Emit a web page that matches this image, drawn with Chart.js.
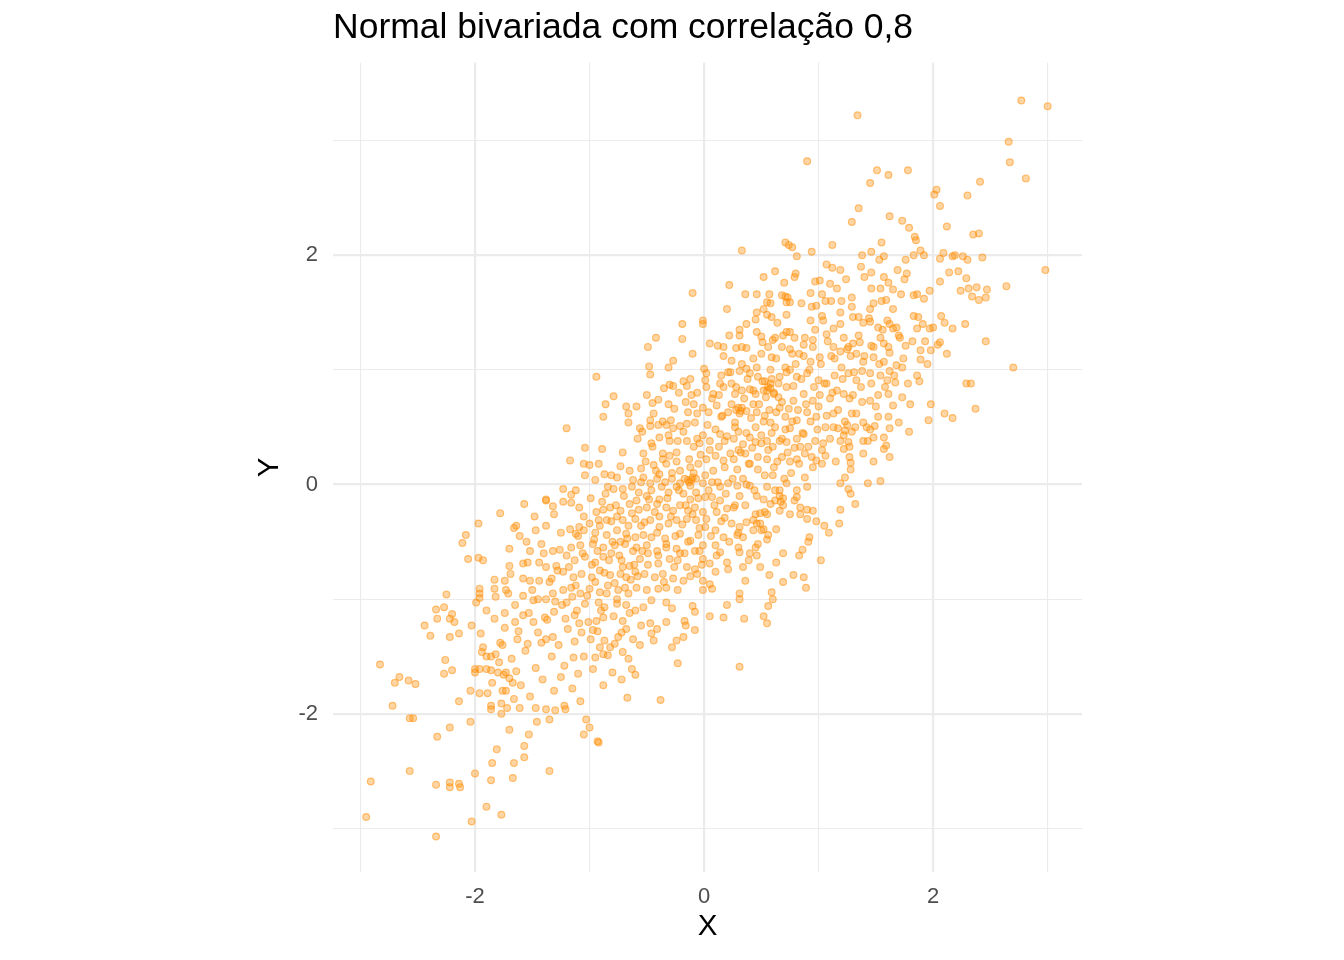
<!DOCTYPE html>
<html lang="pt">
<head>
<meta charset="utf-8">
<title>Normal bivariada com correlação 0,8</title>
<script src="https://cdn.jsdelivr.net/npm/chart.js@4.4.1/dist/chart.umd.min.js"></script>
<style>
	html, body { margin: 0; padding: 0; background: #ffffff; }
	#grafico { display: block; }
</style>
</head>
<body>
<canvas id="grafico" width="1344" height="960"></canvas>
<script>
// pontos (x, y), separados por região da nuvem
const cauda_inferior = [
	[-2.95,-2.90],[-2.91,-2.59],[-2.34,-3.07],[-2.57,-2.50],[-2.34,-2.62],[-2.22,-2.60],[-2.22,-2.64],[-2.14,-2.61],
	[-2.13,-2.64],[-2.03,-2.94],[-1.90,-2.81],[-1.77,-2.88],[-2.00,-2.52],[-1.86,-2.58],[-1.67,-2.56],[-1.35,-2.50],
	[-2.33,-2.20],[-2.22,-2.12],[-2.04,-2.07],[-2.57,-2.04],[-2.54,-2.04],[-2.72,-1.93],[-2.83,-1.57],[-2.70,-1.73],
	[-2.66,-1.68],[-2.58,-1.71],[-2.52,-1.74],[-2.26,-1.53],[-2.27,-1.65],[-2.20,-1.62],[-2.14,-1.89],[-2.04,-1.80],
	[-2.44,-1.23],[-2.39,-1.32],[-2.34,-1.09],[-2.27,-1.07],[-2.33,-1.17],[-2.22,-1.17],[-2.20,-1.13],[-2.18,-1.20],
	[-2.22,-1.33],[-2.14,-1.30],[-2.25,-0.96],[-2.03,-1.23],[-2.11,-0.51],[-2.08,-0.44],[-2.06,-0.65],[-1.97,-0.34],
	[-1.97,-0.64],[-1.93,-0.66],[-1.99,-1.03],[-1.96,-0.99],[-1.96,-0.95],[-1.96,-0.91],[-1.78,-0.25],[-1.83,-0.83],
	[-1.83,-0.91],[-1.73,-0.92],[-1.74,-1.12],[-1.83,-1.17],[-1.93,-1.42],[-1.94,-1.46],[-1.90,-1.50],[-1.82,-1.48],
	[-1.86,-1.50],[-1.79,-1.55],[-1.76,-1.40],[-2.00,-1.61],[-2.00,-1.64],[-1.96,-1.61],[-1.90,-1.61],[-1.80,-1.64],
	[-1.73,-1.64],[-1.64,-1.63],[-1.67,-1.73],[-1.70,-1.69],[-1.75,-1.66],[-1.85,-1.73],[-1.96,-1.82],[-1.76,-1.80],
	[-1.73,-1.80],[-1.66,-1.87],[-1.86,-1.93],[-1.86,-1.96],[-1.77,-1.91],[-1.77,-2.00],[-1.70,-2.14],[-1.81,-2.31],
	[-1.85,-2.43],[-1.66,-2.43],[-1.57,-2.38],[-1.57,-2.28],[-1.53,-2.18],[-1.46,-2.07],[-1.61,-1.95],[-1.47,-1.95],
	[-1.38,-1.96],[-1.30,-1.97],[-1.35,-2.05],[-1.22,-1.93],[-1.21,-1.96],[-1.08,-1.89],[-1.03,-2.05],[-1.00,-2.12],
	[-1.05,-2.18],[-0.93,-2.24],[-0.92,-2.25],[-0.80,-1.64],[-0.88,-1.75],[-0.67,-1.86],[-0.38,-1.88],[-0.72,-1.70],
	[-0.60,-1.66]
];

const flanco_esquerdo = [
	[-1.17,0.21],[-1.23,-0.04],[-1.12,-0.05],[-1.16,-0.09],[-1.38,-0.13],[-1.70,-0.56],[-1.66,-0.38],[-1.74,-0.84],
	[-1.70,-0.71],[-1.69,-0.78],[-1.57,-0.17],[-1.38,-0.14],[-1.32,-0.19],[-1.23,-0.15],[-1.16,-0.16],[-1.09,-0.20],
	[-1.64,-0.36],[-1.48,-0.28],[-1.47,-0.40],[-1.38,-0.36],[-1.31,-0.26],[-1.25,-0.42],[-1.17,-0.39],[-1.09,-0.37],
	[-1.12,-0.43],[-1.61,-0.45],[-1.55,-0.50],[-1.42,-0.52],[-1.52,-0.58],[-1.32,-0.58],[-1.26,-0.57],[-1.58,-0.69],
	[-1.54,-0.68],[-1.44,-0.68],[-1.38,-0.72],[-1.29,-0.71],[-1.52,-0.84],[-1.44,-0.84],[-1.33,-0.82],[-1.58,-0.97],
	[-1.49,-1.01],[-1.38,-1.00],[-1.32,-0.95],[-1.65,-1.20],[-1.58,-1.14],[-1.49,-1.20],[-1.39,-1.16],[-1.31,-1.11],
	[-1.63,-1.35],[-1.54,-1.39],[-1.45,-1.29],[-1.38,-1.35],[-1.32,-1.33],
	[-1.95,-1.30],[-1.90,-1.10],[-1.86,-1.62],[-1.82,-0.98],[-1.78,-1.38],[-1.74,-1.25],[-1.71,-0.95],[-1.68,-1.52],
	[-1.65,-1.05],[-1.62,-1.28],[-1.58,-0.82],[-1.56,-1.45],[-1.53,-1.12],[-1.50,-0.92],[-1.47,-1.60],[-1.45,-1.00],
	[-1.42,-1.38],[-1.40,-0.60],[-1.37,-1.18],[-1.35,-0.85],[-1.33,-1.50],[-1.30,-1.02],[-1.28,-0.75],[-1.27,-1.40],
	[-1.24,-1.05],[-1.22,-1.58],[-1.89,-1.82],[-1.72,-1.95],[-1.60,-1.75],[-1.52,-1.85],[-1.41,-1.70],[-1.31,-1.80],
	[-1.25,-1.68],[-1.15,-1.78],[-1.10,-1.65],[-1.05,-1.50]
];

const cauda_superior = [
	[1.34,3.22],[2.77,3.35],[3.00,3.30],[2.66,2.99],[2.67,2.81],[2.81,2.67],[0.90,2.82],[1.51,2.74],
	[1.61,2.70],[1.78,2.74],[1.45,2.63],[2.41,2.64],[2.30,2.52],[2.03,2.57],[2.01,2.53],[2.06,2.43],
	[1.35,2.41],[1.29,2.29],[1.62,2.34],[1.73,2.30],[1.79,2.24],[2.12,2.25],[2.35,2.18],[2.40,2.19],
	[1.84,2.16],[1.85,2.13],[1.12,2.09],[1.55,2.11],[0.94,2.03],[2.98,1.87],[2.64,1.73],[2.46,1.25],
	[2.70,1.02],[2.29,0.88],[2.33,0.88],[2.37,0.66],[2.10,0.62],[2.17,0.58],[1.98,0.70],[1.96,0.56],
	[1.38,2.00],[1.46,2.03],[1.53,1.96],[1.57,1.99],[1.76,1.96],[1.83,2.00],[1.89,2.04],[1.92,2.00],
	[2.06,1.97],[2.09,2.02],[2.17,1.99],[2.19,2.00],[2.26,1.99],[2.30,1.96],[2.43,1.98],[2.14,1.85],
	[2.22,1.86],[2.29,1.80],[2.06,1.77],[2.24,1.69],[2.31,1.71],[2.38,1.72],[2.47,1.70],[2.34,1.64],
	[2.40,1.61],[2.46,1.63],[2.07,1.47],[2.10,1.41],[2.17,1.36],[2.28,1.40],[2.00,1.37],[1.97,1.36],
	[1.93,1.25],[2.04,1.22],[2.06,1.24],[2.12,1.14],[1.89,1.17],[1.98,1.17],[1.95,1.05],[1.89,1.09]
];

const acima_do_nucleo = [
	[0.33,2.04],[0.71,2.11],[0.74,2.09],[0.77,2.07],[0.81,1.99],[0.62,1.86],[0.52,1.81],[0.70,1.76],
	[0.79,1.81],[0.80,1.84],[0.22,1.74],[-0.10,1.67],[0.36,1.66],[0.46,1.66],[0.57,1.66],[0.55,1.59],
	[0.58,1.58],[0.68,1.65],[0.71,1.64],[0.73,1.63],[0.72,1.59],[0.75,1.59],[0.20,1.53],[0.45,1.44],
	[0.46,1.50],[0.52,1.53],[0.55,1.48],[0.59,1.46],[0.64,1.41],[0.72,1.48],[0.37,1.40],[0.31,1.35],
	[0.31,1.30],[0.22,1.30],[-0.01,1.43],[-0.01,1.40],[-0.19,1.40],[-0.42,1.28],[-0.19,1.27],[-0.49,1.20],
	[-0.10,1.14],[-0.48,1.03],[-0.47,0.96],[-0.31,1.02],[-0.27,1.08],[-0.94,0.94],[0.46,1.33],[0.50,1.29],
	[0.62,1.28],[0.60,1.26],[0.79,1.28],[0.75,1.33],[0.72,1.33],[-0.18,0.90],[-0.15,0.86],[-0.35,0.84],
	[-0.30,0.87],[-0.27,0.86],[-0.50,0.78],[-0.45,0.71],[-0.11,0.78],[-0.06,0.80],[-0.79,0.77],[-0.86,0.70],
	[-0.88,0.59],[-0.68,0.68],[-0.66,0.62],[-0.59,0.68],[-1.20,0.49],[-0.31,0.70],[-0.14,0.63],[-0.09,0.70],
	[-0.47,0.56],[-0.29,0.56]
];

const nucleo_esquerdo = [
	[-0.66,0.54],[-0.56,0.49],[-0.47,0.51],[-0.40,0.52],[-0.33,0.52],[-0.27,0.49],[-0.21,0.51],[-0.15,0.53],
	[-0.08,0.54],[-1.04,0.32],[-0.89,0.31],[-0.71,0.28],[-0.53,0.27],[-0.46,0.36],[-0.39,0.41],[-0.31,0.43],
	[-0.36,0.27],[-0.30,0.25],[-0.23,0.38],[-0.15,0.38],[-0.09,0.33],[-0.04,0.36],[-1.05,0.18],[-1.00,0.17],
	[-0.92,0.18],[-0.73,0.16],[-0.65,0.12],[-0.55,0.14],[-0.44,0.17],[-0.39,0.09],[-0.33,0.18],[-0.24,0.20],
	[-0.21,0.12],[-0.12,0.15],[-0.05,0.18],[-1.04,0.08],[-0.95,0.04],[-0.87,0.09],[-0.81,0.08],[-0.76,0.06],
	[-0.62,0.04],[-0.53,0.06],[-0.47,0.01],[-0.41,0.05],[-0.34,0.02],[-0.28,0.05],[-0.21,0.01],[-0.14,0.04],
	[-0.07,0.05],[-0.01,0.01],[-0.84,-0.02],[-0.79,-0.04],[-0.71,-0.04],[-0.63,-0.02],[-0.57,-0.07],[-0.50,-0.10],
	[-0.46,-0.05],[-0.39,-0.13],[-0.31,-0.07],[-0.24,-0.02],[-0.18,-0.08],[-0.12,-0.13],[-0.07,-0.07],[0.01,-0.11],
	[-0.89,-0.15],[-0.94,-0.24],[-0.82,-0.20],[-0.73,-0.23],[-0.65,-0.17],[-0.59,-0.14],[-0.50,-0.20],[-0.41,-0.17],
	[-0.33,-0.20],[-0.27,-0.23],[-0.21,-0.18],[-0.14,-0.23],[-0.08,-0.20],[-0.01,-0.24],[-1.00,-0.34],[-0.92,-0.31],
	[-0.85,-0.31],[-0.76,-0.28],[-0.71,-0.31],[-0.60,-0.30],[-0.55,-0.36],[-0.47,-0.31],[-0.39,-0.28],[-0.31,-0.34],
	[-0.24,-0.31],[-0.15,-0.30],[-0.07,-0.31],[0.01,-0.37],[-1.05,-0.40],[-0.95,-0.42],[-0.85,-0.44],[-0.76,-0.40],
	[-0.68,-0.43],[-0.60,-0.46],[-0.53,-0.44],[-0.41,-0.42],[-0.34,-0.47],[-0.21,-0.43],[-0.12,-0.49],[-0.05,-0.44],
	[-0.01,-0.53],
	[-0.58,-0.80],[-0.57,-0.22],[-0.55,0.02],[-0.54,-0.58],[-0.52,-0.33],[-0.51,0.20],[-0.49,-0.70],[-0.48,-0.13],
	[-0.46,-0.46],[-0.45,0.33],[-0.43,-0.24],[-0.42,0.12],[-0.40,-0.62],[-0.39,-0.37],[-0.37,-0.02],[-0.36,0.22],
	[-0.35,-0.85],[-0.33,-0.55],[-0.32,-0.12],[-0.30,0.38],[-0.29,-0.28],[-0.28,0.10],[-0.26,-0.72],[-0.25,-0.45],
	[-0.24,0.28],[-0.22,-0.05],[-0.21,-0.60],[-0.19,-0.35],[-0.18,0.46],[-0.17,0.05],[-0.16,-0.18],[-0.14,-0.50],
	[-0.13,0.22],[-0.12,-0.80],[-0.10,-0.26],[-0.09,0.10],[-0.08,-0.58],[-0.06,0.40],[-0.05,-0.12],[-0.04,-0.38],
	[-0.03,0.26],[-0.02,-0.70],[-0.58,0.40],[-0.54,0.46],[-0.44,0.62],[-0.36,0.55],[-0.26,0.66],[-0.16,0.72],
	[-0.06,0.62],[-0.12,0.92],[-0.22,0.80],[-0.40,0.74],[-0.13,0.02],[-0.11,0.04],[-0.12,-0.01],[-0.10,0.06],
	[-1.18,-0.72],[-1.12,-0.88],[-1.06,-0.60],[-1.02,-0.97],[-0.98,-0.70],[-0.95,-0.85],[-0.93,-0.58],[-0.90,-1.10],
	[-0.87,-0.77],[-0.85,-0.95],[-0.83,-0.66],[-0.80,-0.50],[-0.78,-0.86],[-0.76,-1.00],[-0.74,-0.62],[-0.71,-0.72],
	[-0.69,-0.90],[-0.67,-0.47],[-0.64,-0.83],[-0.62,-0.58],[-1.15,-0.98],[-1.10,-0.45],[-1.05,-0.28],[-0.99,-0.12],
	[-0.96,-0.48],[-0.91,-0.36],[-0.88,-0.22],[-0.86,-0.08],[-0.81,-0.32],[-0.77,-0.18],[-0.73,-0.50],[-0.70,-0.10],
	[-0.66,-0.36],[-0.63,-0.25],[-0.61,-0.70],[-1.19,-1.26],[-1.09,-1.21],[-0.99,-1.35],[-0.93,-1.28],[-0.79,-1.15],
	[-0.75,-1.33],[-0.65,-1.12],[-0.62,-1.35]
];

const nucleo_direito = [
	[0.05,1.23],[0.12,1.21],[0.17,1.20],[0.17,1.12],[0.24,1.08],[0.28,1.19],[0.33,1.20],[0.37,1.19],
	[0.43,1.10],[0.50,1.14],[0.51,1.24],[0.56,1.20],[0.59,1.11],[0.68,1.20],[0.77,1.14],[0.83,1.14],
	[0.00,1.01],[0.02,0.97],[0.15,0.95],[0.23,0.98],[0.31,0.99],[0.37,1.01],[0.40,0.97],[0.47,0.94],
	[0.53,0.90],[0.58,0.88],[0.59,0.92],[0.66,0.94],[0.71,1.02],[0.75,1.00],[0.81,0.94],[0.01,0.91],
	[0.02,0.85],[0.08,0.79],[0.13,0.78],[0.17,0.85],[0.24,0.88],[0.27,0.79],[0.33,0.82],[0.40,0.83],
	[0.45,0.79],[0.52,0.82],[0.56,0.85],[0.61,0.79],[0.65,0.76],[0.72,0.85],[0.78,0.73],[-0.01,0.67],
	[0.04,0.63],[0.11,0.69],[0.15,0.59],[0.21,0.63],[0.27,0.54],[0.33,0.67],[0.37,0.64],[0.43,0.70],
	[0.46,0.63],[0.53,0.60],[0.58,0.54],[0.63,0.63],[0.66,0.67],[0.71,0.59],[0.75,0.49],[0.81,0.56],
	[-0.01,0.43],[0.05,0.38],[0.14,0.44],[0.18,0.38],[0.26,0.40],[0.30,0.46],[0.34,0.35],[0.40,0.41],
	[0.45,0.37],[0.50,0.43],[0.55,0.38],[0.60,0.33],[0.68,0.40],[0.72,0.37],[0.81,0.40],[0.84,0.33],
	[0.97,0.38],[1.04,0.36],[0.02,0.22],[0.10,0.25],[0.17,0.21],[0.26,0.22],[0.30,0.30],[0.36,0.27],
	[0.40,0.18],[0.47,0.24],[0.55,0.22],[0.61,0.15],[0.68,0.24],[0.75,0.20],[0.81,0.22],[0.88,0.27],
	[0.94,0.24],[0.98,0.21],[1.06,0.25],
	[0.01,0.08],[0.02,-0.30],[0.03,0.52],[0.04,-0.05],[0.05,0.30],[0.06,-0.45],[0.07,0.75],[0.08,0.12],
	[0.09,-0.18],[0.10,0.48],[0.11,-0.62],[0.12,0.02],[0.13,0.33],[0.14,0.88],[0.15,-0.32],[0.16,0.60],
	[0.18,0.15],[0.19,-0.08],[0.20,0.42],[0.21,0.98],[0.22,-0.50],[0.23,0.27],[0.24,0.70],[0.25,0.05],
	[0.26,-0.20],[0.27,0.50],[0.28,0.85],[0.29,0.13],[0.30,-0.42],[0.31,0.62],[0.32,0.28],[0.33,1.05],
	[0.34,0.05],[0.35,0.75],[0.36,-0.18],[0.37,0.45],[0.38,0.92],[0.39,0.18],[0.40,-0.60],[0.41,0.58],
	[0.42,0.32],[0.43,0.82],[0.44,-0.05],[0.45,0.50],[0.46,1.02],[0.47,0.13],[0.48,0.70],[0.49,-0.25],
	[0.50,0.36],[0.51,0.90],[0.52,0.55],[0.53,0.08],[0.54,0.76],[0.55,-0.48],[0.56,0.30],[0.57,0.65],
	[0.58,1.00],[0.59,0.45],[0.60,0.08],[0.28,0.65],[0.30,0.67],[0.32,0.64],[0.55,0.82],[0.58,0.84],
	[0.61,0.80],
	[0.62,0.50],[0.63,1.10],[0.64,0.20],[0.65,0.88],[0.66,0.38],[0.67,-0.15],[0.68,0.72],[0.69,1.30],
	[0.70,0.05],[0.71,0.48],[0.72,0.98],[0.73,0.28],[0.74,0.66],[0.75,1.18],[0.76,0.10],[0.77,0.55],
	[0.78,0.86],[0.79,0.32],[0.80,1.05],[0.82,0.65],[0.83,0.18],[0.85,0.92],[0.86,0.45],[0.87,1.22],
	[0.88,0.06],[0.89,0.70],[0.91,0.33],[0.92,1.00],[0.93,0.55],[0.95,0.15],[0.96,0.85],[0.97,1.35],
	[0.99,0.48],[1.00,0.68],[1.02,1.05],[1.03,0.30],[1.05,0.88],[1.07,0.60],[1.08,1.25],[1.10,0.40],
	[1.12,0.80],[1.14,1.10],[1.15,0.20],[1.17,0.65],[1.19,1.40],[1.21,0.92],[1.23,0.55],[1.25,1.18],
	[1.27,0.75],[1.29,1.55],[1.31,0.98],[1.33,0.62],[1.35,1.30],[1.37,0.85],[1.40,1.12],[1.42,0.50],
	[1.44,1.45],[1.46,0.88],[1.48,1.20],[1.50,0.68],[1.53,1.05],[1.56,1.35],[1.58,0.85],[1.62,1.15],
	[1.66,0.95],[1.70,1.30],[1.74,1.10],[1.78,0.88],[1.82,1.25]
];

const nucleo_inferior = [
	[-1.16,-0.55],[-1.08,-0.53],[-0.97,-0.52],[-0.88,-0.55],[-0.78,-0.53],[-0.69,-0.52],[-0.59,-0.55],[-0.50,-0.53],
	[-0.41,-0.58],[-0.33,-0.52],[-0.24,-0.56],[-0.17,-0.60],[-1.20,-0.62],[-1.13,-0.66],[-1.04,-0.63],[-0.95,-0.68],
	[-0.88,-0.63],[-0.81,-0.60],[-0.72,-0.66],[-0.65,-0.71],[-0.56,-0.65],[-0.49,-0.60],[-0.40,-0.69],[-0.30,-0.65],
	[-0.23,-0.66],[-0.15,-0.72],[-1.23,-0.76],[-1.14,-0.81],[-1.07,-0.78],[-0.98,-0.81],[-0.91,-0.75],[-0.82,-0.79],
	[-0.73,-0.78],[-0.68,-0.81],[-0.60,-0.76],[-0.52,-0.78],[-0.43,-0.81],[-0.36,-0.78],[-0.27,-0.82],[-0.18,-0.84],
	[-1.23,-0.92],[-1.16,-0.90],[-1.08,-0.95],[-1.00,-0.91],[-0.91,-0.94],[-0.84,-0.88],[-0.75,-0.92],[-0.66,-0.95],
	[-0.59,-0.90],[-0.50,-0.92],[-0.40,-0.91],[-0.33,-0.90],[-0.23,-0.92],[-1.20,-1.03],[-1.11,-1.10],[-1.04,-1.04],
	[-0.92,-1.03],[-0.87,-1.07],[-0.76,-1.04],[-0.68,-1.05],[-0.60,-1.10],[-0.53,-1.07],[-0.46,-1.01],[-0.33,-1.03],
	[-0.28,-1.08],[-1.21,-1.17],[-1.13,-1.14],[-1.01,-1.20],[-0.94,-1.19],[-0.88,-1.16],[-0.71,-1.19],[-0.68,-1.26],
	[-0.55,-1.23],[-0.47,-1.21],[-0.41,-1.26],[-0.33,-1.20],[-0.17,-1.19],[-1.07,-1.29],[-0.97,-1.27],[-0.72,-1.29],
	[-0.46,-1.30],[-0.44,-1.36],[-0.24,-1.36],[-0.18,-1.33],[-1.13,-1.37],[-0.87,-1.36],[-0.91,-1.42],[-0.82,-1.42],
	[-0.78,-1.39],[-0.71,-1.46],[-0.56,-1.40],[-0.28,-1.42],[-1.14,-1.51],[-0.95,-1.51],[-0.88,-1.48],[-0.84,-1.49],
	[-0.66,-1.52],[-0.23,-1.56],[-0.97,-1.61],[-0.63,-1.61]
];

const abaixo_do_nucleo = [
	[0.07,0.02],[0.14,-0.02],[0.21,0.01],[0.29,-0.01],[0.37,0.00],[0.07,-0.11],[0.14,-0.14],[0.20,-0.21],
	[0.27,-0.18],[0.31,-0.10],[0.11,-0.24],[0.18,-0.29],[0.24,-0.34],[0.31,-0.37],[0.37,-0.33],[0.43,-0.40],
	[0.10,-0.40],[0.17,-0.46],[0.29,-0.44],[0.34,-0.46],[-0.04,-0.58],[0.10,-0.53],[0.14,-0.59],[0.20,-0.68],
	[0.30,-0.55],[0.31,-0.59],[0.39,-0.66],[-0.01,-0.65],[0.05,-0.69],[0.10,-0.76],[0.21,-0.74],[-0.08,-0.74],
	[-0.06,-0.78],[-0.01,-0.84],[0.05,-0.87],[-0.01,-0.92],[0.07,-0.91],[0.46,-0.10],[0.52,-0.13],[0.58,-0.17],
	[0.62,-0.14],[0.66,-0.23],[0.69,-0.18],[0.79,-0.14],[0.84,-0.20],[0.55,-0.26],[0.49,-0.34],[0.50,-0.40],
	[0.43,-0.31],[0.40,-0.01],[0.55,-0.02],[0.62,-0.05],[0.66,-0.10],[0.81,-0.05],[0.90,-0.02],[0.72,0.01],
	[0.31,-1.59],[0.05,-1.15],[0.17,-1.16],[0.20,-1.05],[0.35,-1.17],[0.52,-1.15],[0.55,-1.21],[0.56,-1.06],
	[0.59,-0.94],[0.60,-1.00],[0.31,-0.95],[0.31,-1.00],[0.36,-0.84],[0.49,-0.72],[0.57,-0.79],[0.69,-0.85],
	[0.78,-0.79],[0.87,-0.81],[0.89,-0.90],[0.63,-0.68],[0.69,-0.60],[0.83,-0.62],[0.86,-0.57],[0.91,-0.50],
	[0.92,-0.46],[1.02,-0.66],[0.98,-0.32],[0.90,-0.30],[0.95,-0.23],[0.90,-0.22],[0.84,-0.26],[0.75,-0.26],
	[0.63,-0.39],[-0.10,-1.06],[-0.08,-1.11],[-0.08,-1.27],[-0.16,-1.23],[0.34,-0.72],[0.46,-0.62],[0.45,-0.55],
	[0.47,-0.52],[0.56,-0.44],[0.52,-0.39],[0.46,-0.34],[0.45,-0.26],[0.53,-0.24],[0.69,-0.12],[0.81,-0.11],
	[0.66,-0.05]
];

const direita_do_nucleo = [
	[1.07,1.92],[1.12,1.89],[1.19,1.87],[1.24,1.79],[0.97,1.77],[1.01,1.78],[1.10,1.75],[1.16,1.71],
	[0.93,1.67],[1.03,1.66],[1.06,1.60],[1.11,1.60],[1.20,1.60],[1.29,1.63],[1.37,1.90],[1.46,1.85],
	[1.40,1.81],[1.46,1.71],[1.54,1.71],[1.57,1.81],[1.61,1.76],[1.65,1.70],[1.69,1.87],[1.77,1.84],
	[1.75,1.79],[1.72,1.66],[1.83,1.65],[1.86,1.66],[1.92,1.62],[1.97,1.69],[1.55,1.60],[1.59,1.61],
	[1.65,1.53],[1.48,1.58],[1.45,1.53],[0.85,1.58],[0.94,1.55],[0.98,1.56],[0.93,1.43],[1.03,1.47],
	[1.04,1.43],[1.13,1.36],[1.19,1.50],[1.30,1.46],[1.35,1.46],[1.39,1.41],[1.45,1.42],[1.52,1.37],
	[1.60,1.43],[1.62,1.40],[1.65,1.36],[1.68,1.37],[1.83,1.47],[1.87,1.46],[1.86,1.36],[1.91,1.40],
	[0.88,1.28],[0.95,1.26],[0.95,1.20],[1.07,1.31],[1.13,1.20],[1.22,1.28],[1.26,1.20],[1.30,1.23],
	[1.36,1.24],[1.46,1.21],[1.54,1.28],[1.57,1.23],[1.61,1.20],[1.71,1.28],[1.76,1.21],[0.87,1.12],
	[0.93,1.07],[1.01,1.11],[1.11,1.12],[1.19,1.16],[1.28,1.12],[1.33,1.14],[1.39,1.07],[1.48,1.11],
	[1.57,1.07],[1.62,0.99],[1.68,1.04],[1.73,1.02],[1.86,0.95],[1.88,0.90],[0.90,0.97],[1.00,0.91],
	[1.07,0.88],[1.14,0.95],[1.20,1.02],[1.26,0.97],[1.33,0.91],[1.38,0.99],[1.45,0.97],[1.54,0.95],
	[1.60,0.91],[1.67,0.89],[0.87,0.79],[0.95,0.73],[1.01,0.78],[1.10,0.75],[1.16,0.82],[1.22,0.79],
	[1.30,0.78],[1.38,0.72],[1.45,0.73],[1.52,0.78],[1.61,0.79],[1.65,0.69],[1.73,0.76],[1.80,0.70],
	[0.90,0.63],[0.98,0.59],[1.13,0.62],[1.29,0.62],[1.52,0.59],[1.61,0.59],[0.87,0.44],
	[1.06,0.50],[1.13,0.50],[1.17,0.49],[1.25,0.52],[1.32,0.50],[1.23,0.47],[1.29,0.46],[1.39,0.54],
	[1.49,0.51],[1.45,0.48],[1.62,0.49],[1.70,0.54],[1.79,0.46],[1.19,0.38],[1.22,0.43],[1.26,0.37],
	[1.27,0.33],[1.22,0.31],[1.39,0.38],[1.43,0.38],[1.48,0.41],[1.57,0.41],[1.59,0.34],[1.57,0.31],
	[1.39,0.27],[1.62,0.24],[1.27,0.24],[1.28,0.19],[1.48,0.20],[1.28,0.13],[1.03,0.18],[1.23,0.06],
	[1.19,0.01],[1.43,0.01],[1.54,0.03],[1.26,-0.04],[1.28,-0.08],[1.32,-0.17],[1.19,-0.22],[1.18,-0.34],
	[1.05,-0.36],[1.09,-0.42]
];

const x_ticks = [-3, -2, -1, 0, 1, 2, 3];
const y_ticks = [-3, -2, -1, 0, 1, 2, 3];
const x_limits = [-3.24, 3.30];
const y_limits = [-3.38, 3.68];

const titulo = "Normal bivariada com correlação 0,8";
const fonte = "'Liberation Sans', Arial, sans-serif";

const pontos = [].concat(
	cauda_inferior, flanco_esquerdo, cauda_superior, acima_do_nucleo,
	nucleo_esquerdo, nucleo_direito, nucleo_inferior, abaixo_do_nucleo, direita_do_nucleo
).map(p => ({ x: p[0], y: p[1] }));

// linhas principais nos pares, secundárias (mais finas) nos ímpares
function grid_width (ctx) {
	return (ctx.tick && ctx.tick.value % 2 === 0) ? 2.2 : 1.1;
}

function tick_label (value) {
	return value % 2 === 0 ? String(value) : "";
}

function axis_options (limits, ticks, position) {
	return {
		type: "linear",
		position: position,
		min: limits[0],
		max: limits[1],
		afterBuildTicks: scale => {
			scale.ticks = ticks.map(v => ({ value: v }));
		},
		grid: {
			color: "#ebebeb",
			lineWidth: grid_width,
			drawTicks: false
		},
		border: { display: false },
		ticks: {
			callback: tick_label,
			color: "#4d4d4d",
			font: { family: fonte, size: 22 },
			maxRotation: 0,
			autoSkip: false
		}
	};
}

const x_axis = axis_options(x_limits, x_ticks, "bottom");
x_axis.ticks.padding = 12;
x_axis.afterFit = scale => { scale.height = 88; };
x_axis.title = {
	display: true,
	text: "X",
	color: "#000000",
	font: { family: fonte, size: 29.5 },
	padding: { top: 0, bottom: 15 }
};

const y_axis = axis_options(y_limits, y_ticks, "left");
y_axis.ticks.padding = 15;
y_axis.afterFit = scale => { scale.width = 333; };
y_axis.title = {
	display: true,
	text: "Y",
	color: "#000000",
	font: { family: fonte, size: 29.5 },
	padding: { top: 252, bottom: 0 }
};

const canvas = document.getElementById("grafico");
const chart = new Chart(canvas, {
	type: "scatter",
	data: {
		datasets: [{
			label: "amostra",
			data: pontos,
			pointRadius: 3.4,
			pointHoverRadius: 3.4,
			borderWidth: 1.2,
			backgroundColor: "rgba(255, 140, 0, 0.36)",
			borderColor: "rgba(255, 140, 0, 0.5)"
		}]
	},
	options: {
		responsive: false,
		animation: false,
		devicePixelRatio: 1,
		layout: { padding: { left: 0, right: 262, top: 0, bottom: 0 } },
		plugins: {
			legend: { display: false },
			tooltip: { enabled: false },
			title: {
				display: true,
				text: titulo,
				align: "start",
				fullSize: false,
				color: "#000000",
				font: { family: fonte, size: 35.5, weight: "normal" },
				padding: { top: 7, bottom: 13 }
			}
		},
		scales: {
			x: x_axis,
			y: y_axis
		}
	}
});
</script>
</body>
</html>
